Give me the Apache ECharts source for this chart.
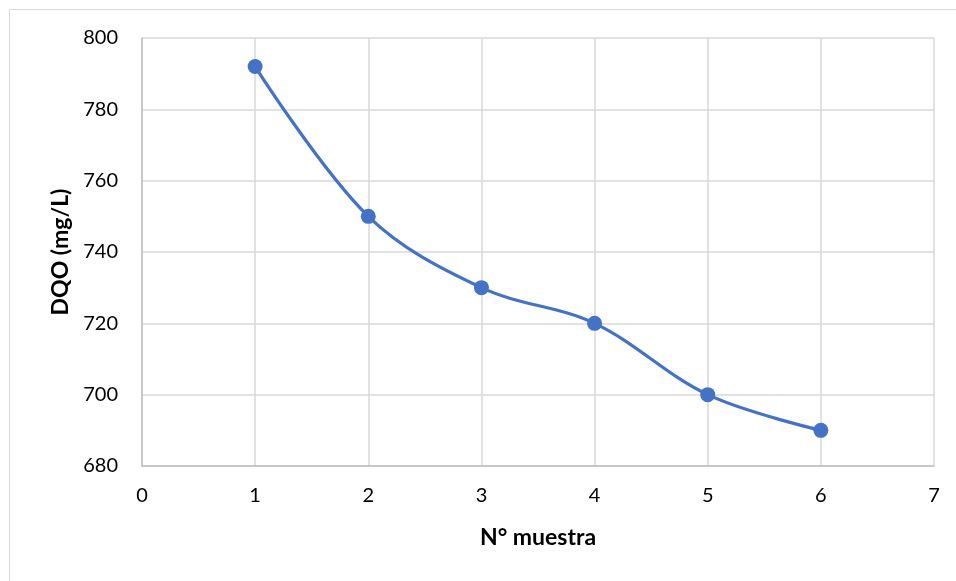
<!DOCTYPE html>
<html><head><meta charset="utf-8">
<script src="https://cdn.jsdelivr.net/npm/echarts@6/dist/echarts.min.js"></script>
<style>html,body{margin:0;padding:0;background:#fff}#c{width:956px;height:581px}</style>
</head><body><div id="c"></div>
<script>
const muestra = [1, 2, 3, 4, 5, 6];
const dqo = [792, 750, 730, 720, 700, 690];
const xTitle = 'N° muestra';
const yTitle = 'DQO (mg/L)';

const chart = echarts.init(document.getElementById('c'));
const font = 'Lato, "Open Sans", sans-serif';
chart.setOption({
  animation: false,
  backgroundColor: '#fff',
  graphic: [{
    type: 'rect', shape: {x: 9.5, y: 9.5, width: 1000, height: 1000},
    style: {fill: 'none', stroke: '#d9d9d9', lineWidth: 1}, silent: true
  }],
  grid: {left: 142, right: 22, top: 38, bottom: 115},
  xAxis: {
    type: 'value', min: 0, max: 7, interval: 1,
    name: xTitle, nameLocation: 'middle', nameGap: 60,
    nameTextStyle: {fontFamily: font, fontSize: 23, fontWeight: 'bold', color: '#000'},
    axisLine: {show: true, lineStyle: {color: '#bfbfbf', width: 1.5}},
    axisTick: {show: false},
    axisLabel: {fontFamily: font, fontSize: 20, color: '#000', margin: 20},
    splitLine: {show: true, lineStyle: {color: '#d9d9d9', width: 1.5}}
  },
  yAxis: {
    type: 'value', min: 680, max: 800, interval: 20,
    name: yTitle, nameLocation: 'middle', nameGap: 70,
    nameTextStyle: {fontFamily: font, fontSize: 23, fontWeight: 'bold', color: '#000'},
    axisLine: {show: true, lineStyle: {color: '#bfbfbf', width: 1.5}},
    axisTick: {show: false},
    axisLabel: {fontFamily: font, fontSize: 20, color: '#000', margin: 24},
    splitLine: {show: true, lineStyle: {color: '#d9d9d9', width: 1.5}}
  },
  series: [{
    type: 'line',
    data: muestra.map((m, i) => [m, dqo[i]]),
    smooth: 0.35,
    symbol: 'circle', symbolSize: 15,
    lineStyle: {color: '#4472C4', width: 3.2},
    itemStyle: {color: '#4472C4'}
  }]
});
</script></body></html>
